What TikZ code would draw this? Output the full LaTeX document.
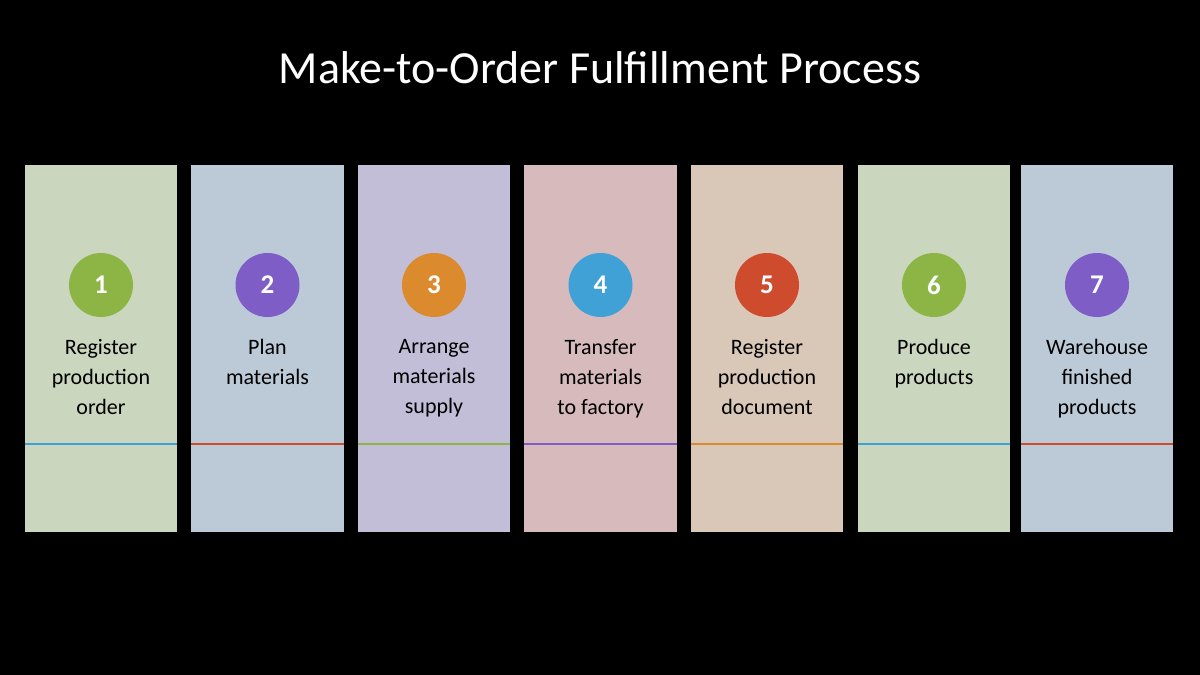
\documentclass[tikz,border=0pt]{standalone}
\usepackage{fontspec}
\setmainfont{Carlito}
\definecolor{fa}{HTML}{CBD6BF}
\definecolor{fb}{HTML}{BCCAD7}
\definecolor{fc}{HTML}{C3BED7}
\definecolor{fd}{HTML}{D7BBBC}
\definecolor{fe}{HTML}{D9C7B8}
\definecolor{cg}{HTML}{8DB545}
\definecolor{cp}{HTML}{7E5EC6}
\definecolor{co}{HTML}{DB8B2E}
\definecolor{cb}{HTML}{3FA1D6}
\definecolor{cr}{HTML}{CF4B2E}
\tikzset{col/.style={draw=none},
 num/.style={circle,minimum size=64pt,inner sep=0pt,text=white,font=\fontsize{27}{30}\selectfont\bfseries},
 lab/.style={align=center,font=\fontsize{22}{30}\selectfont,anchor=north},
 sep/.style={line width=1.3pt}}
\begin{document}
\begin{tikzpicture}[x=1pt,y=-1pt]
\fill[black] (0,0) rectangle (1200,675);
\useasboundingbox (0,0) rectangle (1200,675);
\node[text=white,font=\fontsize{46}{50}\selectfont] (title) at (600,68) {Make-to-Order Fulfillment Process};
\foreach \i/\xa/\xb/\f/\c/\l/\t in {
 1/25/177/fa/cg/cb/{Register\\production\\order},
 2/191/344/fb/cp/cr/{Plan\\materials},
 3/358/510/fc/co/cg/{Arrange\\materials\\supply},
 4/524/677/fd/cb/cp/{Transfer\\materials\\to factory},
 5/691/843/fe/cr/co/{Register\\production\\document},
 6/858/1010/fa/cg/cb/{Produce\\products},
 7/1021/1173/fb/cp/cr/{Warehouse\\finished\\products}}{
 \fill[\f] (\xa,165) rectangle (\xb,532);
 \node[num,fill=\c] (n\i) at ({(\xa+\xb)/2},285) {\i};
 \node[lab] (t\i) at ({(\xa+\xb)/2},336) {\t};
 \coordinate (la\i) at (\xa,444);
 \coordinate (lb\i) at (\xb,444);
 \draw[sep,\l] (la\i) -- (lb\i);
}
\end{tikzpicture}
\end{document}
